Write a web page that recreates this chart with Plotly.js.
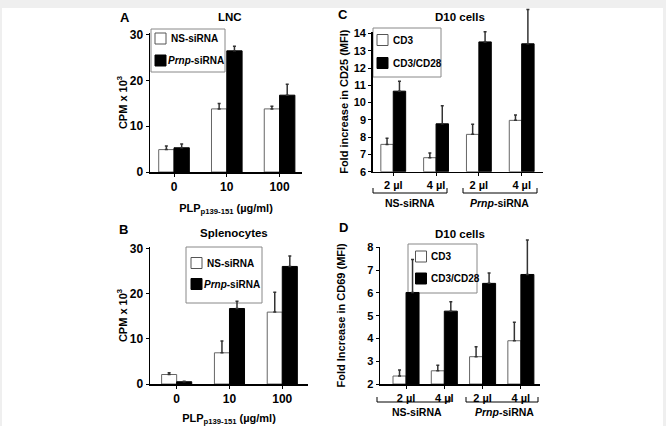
<!DOCTYPE html>
<html><head><meta charset="utf-8">
<script src="https://cdn.plot.ly/plotly-3.0.1.min.js"></script>
<style>html,body{margin:0;padding:0;background:#efefef;}#chart{width:666px;height:426px;}</style>
</head><body><div id="chart"></div>
<script>
// ---- data ----
const doseCategories = ['0', '10', '100'];
const lncNS = [4.9, 13.8, 13.8];
const lncNSErr = [0.8, 1.2, 0.6];
const lncPrnp = [5.3, 26.5, 16.8];
const lncPrnpErr = [0.8, 1.0, 2.4];
const splNS = [2.1, 6.9, 15.9];
const splNSErr = [0.4, 2.6, 4.4];
const splPrnp = [0.5, 16.7, 26.0];
const splPrnpErr = [0.1, 1.6, 2.3];
const d10Categories = ['NS 2 µl', 'NS 4 µl', 'Prnp 2 µl', 'Prnp 4 µl'];
const d10TickLabels = ['2 µl', '4 µl', '2 µl', '4 µl'];
const cd25CD3 = [7.58, 6.81, 8.16, 8.97];
const cd25CD3Err = [0.35, 0.27, 0.58, 0.31];
const cd25CD28 = [10.66, 8.77, 13.51, 13.40];
const cd25CD28Err = [0.58, 1.04, 0.58, 1.99];
const cd69CD3 = [2.35, 2.58, 3.2, 3.9];
const cd69CD3Err = [0.27, 0.24, 0.44, 0.81];
const cd69CD28 = [6.02, 5.2, 6.42, 6.81];
const cd69CD28Err = [1.45, 0.41, 0.46, 1.51];

// ---- helpers ----
const W = 666, H = 426;
const px = x => x / W;
const py = y => 1 - y / H;
const FONT = 'Liberation Sans, Arial, sans-serif';
const f = (size, bold) => ({family: FONT, size: size, color: '#000', weight: bold ? 'bold' : 'normal'});

function bars(name, x, y, err, xa, ya, filled, offset, width, base, mode) {
  const b = base || 0;
  const t = {
    type: 'bar', name: name, x: x, y: y.map(v => v - b), base: b,
    xaxis: xa, yaxis: ya, offset: offset, width: width,
    marker: {color: filled ? '#000' : '#fff', line: {color: filled ? '#000' : '#666', width: 1}},
    showlegend: false, hoverinfo: 'skip'
  };
  if (mode !== 'barsOnly') {
    t.error_y = {type: 'data', symmetric: false, array: err, arrayminus: err.map(() => 0),
                 color: '#333', thickness: 1.5, width: 1.5};
  }
  if (mode === 'errorsOnly') {
    t.marker = {color: 'rgba(0,0,0,0)', line: {width: 0}};
  }
  return t;
}

const data = [
  bars('NS-siRNA', doseCategories, lncNS, lncNSErr, 'x', 'y', false, -0.29, 0.29),
  bars('Prnp-siRNA', doseCategories, lncPrnp, lncPrnpErr, 'x', 'y', true, 0, 0.29),
  bars('NS-siRNA', doseCategories, splNS, splNSErr, 'x2', 'y2', false, -0.285, 0.285),
  bars('Prnp-siRNA', doseCategories, splPrnp, splPrnpErr, 'x2', 'y2', true, 0, 0.285),
  // panel C: bars on the visible axis, error bars on a taller twin so they are not cut off
  bars('CD3', d10Categories, cd25CD3, cd25CD3Err, 'x3', 'y3', false, -0.29, 0.29, 6, 'barsOnly'),
  bars('CD3/CD28', d10Categories, cd25CD28, cd25CD28Err, 'x3', 'y3', true, 0, 0.29, 6, 'barsOnly'),
  bars('CD3', d10Categories, cd25CD3, cd25CD3Err, 'x3', 'y5', false, -0.29, 0.29, 6, 'errorsOnly'),
  bars('CD3/CD28', d10Categories, cd25CD28, cd25CD28Err, 'x3', 'y5', true, 0, 0.29, 6, 'errorsOnly'),
  // panel D
  bars('CD3', d10Categories, cd69CD3, cd69CD3Err, 'x4', 'y4', false, -0.34, 0.34, 2, 'barsOnly'),
  bars('CD3/CD28', d10Categories, cd69CD28, cd69CD28Err, 'x4', 'y4', true, 0, 0.34, 2, 'barsOnly'),
  bars('CD3', d10Categories, cd69CD3, cd69CD3Err, 'x4', 'y6', false, -0.34, 0.34, 2, 'errorsOnly'),
  bars('CD3/CD28', d10Categories, cd69CD28, cd69CD28Err, 'x4', 'y6', true, 0, 0.34, 2, 'errorsOnly')
];

const axCommon = {showline: true, linecolor: '#000', linewidth: 1.5, ticks: 'outside', ticklen: 3,
  tickcolor: '#000', tickwidth: 1, showgrid: false, zeroline: false, fixedrange: true};

function xax(domain, anchor, range, cats, labels, title, standoff, tsize) {
  const a = Object.assign({}, axCommon, {domain: domain, anchor: anchor, type: 'category', range: range,
    tickfont: f(tsize, true)});
  if (labels) { a.tickvals = cats; a.ticktext = labels; }
  if (title) a.title = {text: title, font: f(11, true), standoff: standoff};
  return a;
}
function yax(domain, anchor, range, dtick, title, standoff, tsize) {
  return Object.assign({}, axCommon, {domain: domain, anchor: anchor, range: range, dtick: dtick,
    tick0: 0, tickfont: f(tsize, true), title: {text: title, font: f(11, true), standoff: standoff}});
}
// invisible twin y axis with the same pixel scale but a taller domain
function twin(top, bottom, extTop, range, anchor) {
  const perPx = (range[1] - range[0]) / (bottom - top);
  return {domain: [py(bottom), py(extTop)], anchor: anchor, visible: false, fixedrange: true,
    range: [range[0], range[0] + perPx * (bottom - extTop)], showgrid: false, zeroline: false};
}

const cRange = [6, 14.1], dRange = [2, 8.03];
const layout = {
  width: W, height: H, margin: {l: 0, r: 0, t: 0, b: 0},
  paper_bgcolor: '#efefef', plot_bgcolor: 'rgba(0,0,0,0)',
  barmode: 'overlay', showlegend: false, font: f(11, true),
  xaxis: xax([px(150), px(302)], 'y', [-0.455, 2.425], doseCategories, null,
    'PLP<sub>p139-151</sub> (µg/ml)', 11, 12),
  yaxis: yax([py(172), py(33)], 'x', [0, 30.4], 10, 'CPM x 10<sup>3</sup>', 0, 12),
  xaxis2: xax([px(150), px(308)], 'y2', [-0.505, 2.487], doseCategories, null,
    'PLP<sub>p139-151</sub> (µg/ml)', 9, 12),
  yaxis2: yax([py(384), py(247)], 'x2', [0, 30.3], 10, 'CPM x 10<sup>3</sup>', 0, 12),
  xaxis3: xax([px(372.7), px(543.3)], 'y3', [-0.48, 3.505], d10Categories, d10TickLabels, null, 0, 11),
  yaxis3: yax([py(171.7), py(31.7)], 'x3', cRange, 1, 'Fold increase in CD25 (MFI)', 3, 11),
  yaxis5: twin(31.7, 171.7, 4, cRange, 'x3'),
  xaxis4: xax([px(380), px(540)], 'y4', [-0.68, 3.5], d10Categories, d10TickLabels, null, 0, 11),
  yaxis4: yax([py(384), py(246.7)], 'x4', dRange, 1, 'Fold Increase in CD69 (MFI)', 19, 11),
  yaxis6: twin(246.7, 384, 225, dRange, 'x4'),
  shapes: [],
  annotations: []
};

// white page area inside the grey frame
layout.shapes.push({type: 'rect', xref: 'paper', yref: 'paper', x0: px(2), x1: px(663), y0: 0, y1: py(8),
  fillcolor: '#fff', line: {width: 0}, layer: 'below'});

function ann(text, x, y, size, bold, xanchor) {
  layout.annotations.push({text: text, xref: 'paper', yref: 'paper', x: px(x), y: py(y),
    xanchor: xanchor || 'center', yanchor: 'middle', showarrow: false, font: f(size, bold)});
}
// panel letters and titles
ann('A', 125, 17, 13, true); ann('LNC', 230, 17, 11.5, true);
ann('B', 123, 229, 13, true); ann('Splenocytes', 234, 233, 11.5, true);
ann('C', 343, 15, 13, true); ann('D10 cells', 460, 17, 11.5, true);
ann('D', 343, 228, 13, true); ann('D10 cells', 460, 234, 11.5, true);

// manual legends (compact boxes like the reference)
function legend(box, items) {
  layout.shapes.push({type: 'rect', xref: 'paper', yref: 'paper', x0: px(box[0]), x1: px(box[1]),
    y0: py(box[3]), y1: py(box[2]), fillcolor: '#fff', line: {color: '#888', width: 1}, layer: 'below'});
  items.forEach(it => {
    layout.shapes.push({type: 'rect', xref: 'paper', yref: 'paper', x0: px(it.sx), x1: px(it.sx + 11),
      y0: py(it.cy + 5.5), y1: py(it.cy - 5.5), fillcolor: it.filled ? '#000' : '#fff',
      line: {color: it.filled ? '#000' : '#555', width: 1}, layer: 'below'});
    ann(it.text, it.tx, it.cy, 10, true, 'left');
  });
}
legend([151, 225, 29, 72], [
  {sx: 155, cy: 38.5, filled: false, text: 'NS-siRNA', tx: 169},
  {sx: 155, cy: 60.5, filled: true, text: '<i>Prnp</i>-siRNA', tx: 166}]);
legend([186, 262, 247, 303], [
  {sx: 191, cy: 263, filled: false, text: 'NS-siRNA', tx: 205},
  {sx: 191, cy: 284, filled: true, text: '<i>Prnp</i>-siRNA', tx: 202}]);
legend([373, 441, 28, 77], [
  {sx: 377, cy: 40, filled: false, text: 'CD3', tx: 391},
  {sx: 377, cy: 63, filled: true, text: 'CD3/CD28', tx: 391}]);
legend([408, 477, 244, 293], [
  {sx: 415.5, cy: 256.5, filled: false, text: 'CD3', tx: 429},
  {sx: 415.5, cy: 278.5, filled: true, text: 'CD3/CD28', tx: 429}]);

// group brackets under C and D
function bracket(x0, x1, yTop, yBot) {
  const path = 'M' + px(x0) + ',' + py(yTop) + ' L' + px(x0) + ',' + py(yBot) +
    ' L' + px(x1) + ',' + py(yBot) + ' L' + px(x1) + ',' + py(yTop);
  layout.shapes.push({type: 'path', xref: 'paper', yref: 'paper', path: path,
    line: {color: '#000', width: 1}});
}
bracket(373, 447, 188, 193); bracket(463, 537, 188, 193);
bracket(377, 450, 397, 402); bracket(466, 538, 397, 402);
ann('NS-siRNA', 410, 203, 10.5, true); ann('<i>Prnp</i>-siRNA', 500, 203, 10.5, true);
ann('NS-siRNA', 417, 412, 10.5, true); ann('<i>Prnp</i>-siRNA', 504, 412, 10.5, true);

Plotly.newPlot('chart', data, layout, {staticPlot: true, displayModeBar: false});
</script></body></html>
